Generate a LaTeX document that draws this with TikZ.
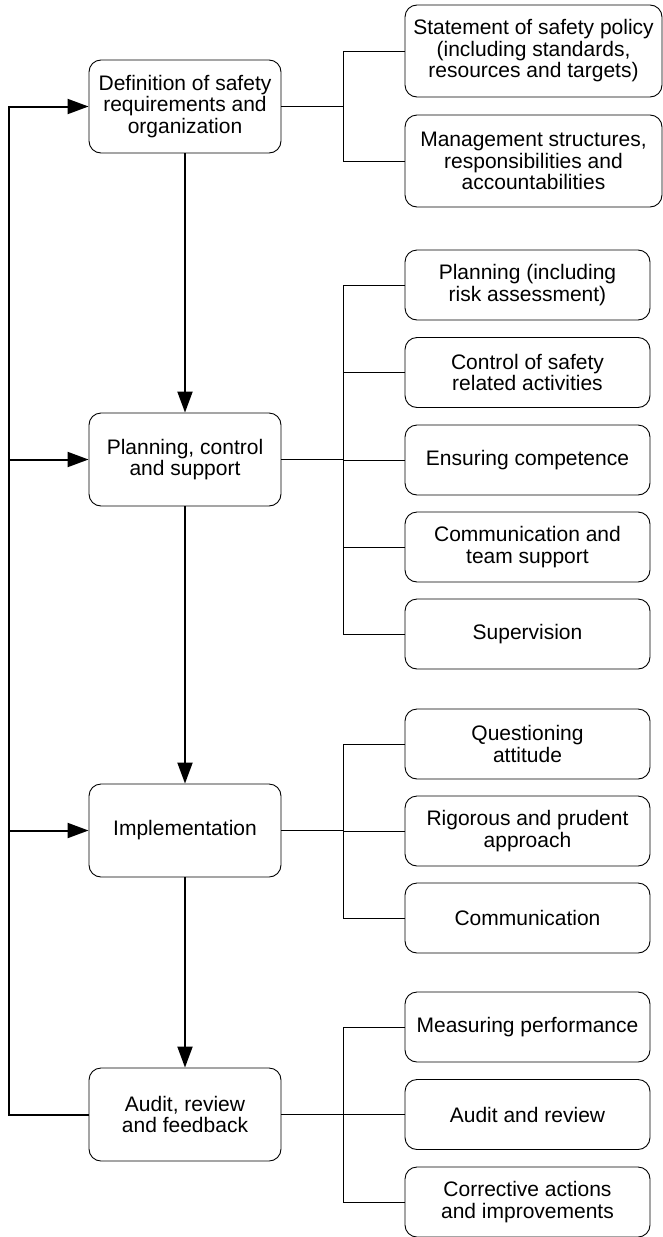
\documentclass[tikz,border=0pt]{standalone}
\usepackage{fontspec}
\setmainfont{Liberation Sans}
\usetikzlibrary{arrows.meta}
\tikzset{
  mainbox/.style={draw, rounded corners=12pt, minimum width=192pt, minimum height=93pt, align=center, line width=0.9pt},
  subbox/.style={draw, rounded corners=12pt, minimum width=245pt, minimum height=70pt, align=center, line width=0.9pt},
  bigbox/.style={subbox, minimum width=257pt, minimum height=92pt},
  flow/.style={line width=2pt},
  tie/.style={line width=0.9pt}
}
\begin{document}
\begin{tikzpicture}[x=1pt, y=-1pt, font=\fontsize{21}{21.5}\selectfont,
        >={Triangle[length=21pt,width=15pt]}]
        \useasboundingbox (0,0) rectangle (663,1237);
        \coordinate (fb) at (9,0);
        \coordinate (brk) at (343,0);
        % main column
        \node[mainbox] (def) at (185,106.5) {Definition of safety\\requirements and\\organization};
        \node[mainbox] (pln) at (185,459.5) {Planning, control\\and support};
        \node[mainbox] (imp) at (185,830.5) {Implementation};
        \node[mainbox] (aud) at (185,1114.5) {Audit, review\\and feedback};
        % right column
        \node[bigbox] (pol) at (533.5,51) {Statement of safety policy\\(including standards,\\resources and targets)};
        \node[bigbox] (mgt) at (533.5,161) {Management structures,\\responsibilities and\\accountabilities};
        \node[subbox] (pra) at (527.5,285) {Planning (including\\risk assessment)};
        \node[subbox] (ctl) at (527.5,372.5) {Control of safety\\related activities};
        \node[subbox] (cmp) at (527.5,460) {Ensuring competence};
        \node[subbox] (com) at (527.5,547) {Communication and\\team support};
        \node[subbox] (sup) at (527.5,634) {Supervision};
        \node[subbox] (qst) at (527.5,744) {Questioning\\attitude};
        \node[subbox] (rig) at (527.5,831) {Rigorous and prudent\\approach};
        \node[subbox] (cmn) at (527.5,918) {Communication};
        \node[subbox] (mea) at (527.5,1027) {Measuring performance};
        \node[subbox] (rev) at (527.5,1114.5) {Audit and review};
        \node[subbox] (cor) at (527.5,1202) {Corrective actions\\and improvements};
        
        \draw[flow,->] (def) -- (pln);
        \draw[flow,->] (pln) -- (imp);
        \draw[flow,->] (imp) -- (aud);
        % feedback loop
        \draw[flow,->] (aud.west) -- (aud.west -| fb) -- (fb |- def.west) -- (def.west);
        \foreach \m in {pln,imp}
        \draw[flow,->] (fb |- \m.west) -- (\m.west);
        
        \foreach \m/\subs in {def/{pol,mgt}, pln/{pra,ctl,cmp,com,sup}, imp/{qst,rig,cmn}, aud/{mea,rev,cor}}{
            \draw[tie] (\m.east) -- (\m.east -| brk);
            \foreach \s in \subs
            \draw[tie] (\s.west) -| (\m.east -| brk);
        }
        
    \end{tikzpicture}
\end{document}
